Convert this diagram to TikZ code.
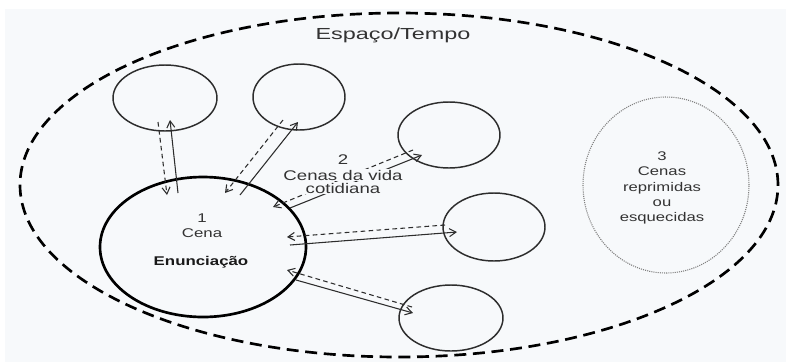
\documentclass[tikz,border=0pt]{standalone}
\usepackage{fontspec}
\setmainfont{Liberation Sans}
\usetikzlibrary{shapes.geometric,arrows.meta}
\definecolor{fundo}{RGB}{247,249,251}
\definecolor{traco}{RGB}{45,45,45}

\begin{document}
\begin{tikzpicture}[x=0.75pt,y=-0.75pt,>={Straight Barb[length=5pt,width=6pt]},
		scene/.style={ellipse,draw=traco,line width=1.1pt,inner sep=0pt},
		texto/.style={text=black!80,align=center,xscale=1.33,inner sep=0pt},
		ida/.style={->,draw=traco,line width=0.8pt},
		volta/.style={->,draw=traco,line width=0.8pt,dash pattern=on 3.5pt off 2.5pt}]

		\useasboundingbox (0,0) rectangle (786,362);
		\fill [white] (0,0) rectangle (786,362);
		\fill [fundo] (5,9) rectangle (786,362);

		\node [ellipse, draw, line width=2pt, dash pattern=on 9pt off 5pt, inner sep=0pt,
			minimum width=568.5pt, minimum height=258pt] (espaco) at (399,185) {};
		\node [ellipse, draw=gray, line width=0.8pt, dash pattern=on 0.8pt off 0.8pt, inner sep=0pt,
			minimum width=124.5pt, minimum height=132pt] (esq) at (666,185) {};

		\node [ellipse, draw, line width=2pt, inner sep=0pt,
			minimum width=154.5pt, minimum height=105pt] (cena) at (203,247) {};
		\node [scene, minimum width=78pt, minimum height=49.5pt] (c_1) at (165,98) {};
		\node [scene, minimum width=69pt, minimum height=49.5pt] (c_2) at (299,97) {};
		\node [scene, minimum width=76.5pt, minimum height=49.5pt] (c_3) at (449,135) {};
		\node [scene, minimum width=76.5pt, minimum height=51pt] (c_4) at (494,227) {};
		\node [scene, minimum width=78pt, minimum height=49.5pt] (c_5) at (451,318) {};

		\draw [ida] ([shift={(-25,-54)}]cena.center) -- ([shift={(5,22)}]c_1.center);
		\draw [volta] ([shift={(-7,24)}]c_1.center) -- ([shift={(-36,-52)}]cena.center);
		\draw [ida] ([shift={(37,-52)}]cena.center) -- ([shift={(-1,25)}]c_2.center);
		\draw [volta] ([shift={(-16,23)}]c_2.center) -- ([shift={(22,-54)}]cena.center);
		\draw [ida] ([shift={(87,-39)}]cena.center) -- ([shift={(-27,20)}]c_3.center);
		\draw [volta] ([shift={(-36,15)}]c_3.center) -- ([shift={(70,-40)}]cena.center);
		\draw [ida] ([shift={(87,-2)}]cena.center) -- ([shift={(-37,5)}]c_4.center);
		\draw [volta] ([shift={(-49,-2)}]c_4.center) -- ([shift={(84,-10)}]cena.center);
		\draw [ida] ([shift={(93,33)}]cena.center) -- ([shift={(-38,-5)}]c_5.center);
		\draw [volta] ([shift={(-39,-11)}]c_5.center) -- ([shift={(84,23)}]cena.center);

		\node [texto, xscale=1.1, font=\fontsize{12}{14}\selectfont] (titulo) at (393,35) {Espaço/Tempo};
		\node [texto, font=\fontsize{9.5}{11.3}\selectfont] (lab_1) at (202,225.5) {1\\Cena};
		\node [texto, font=\bfseries\fontsize{9.5}{11.3}\selectfont, text=black!90] (enun) at (201,262) {Enunciação};
		\node [texto, fill=fundo, inner sep=1pt, font=\fontsize{10.5}{12}\selectfont] (lab_2) at (343,160) {2};
		\node [texto, fill=fundo, inner sep=1pt, font=\fontsize{10.5}{12}\selectfont] (lab_2a) at (343,175) {Cenas da vida};
		\node [texto, fill=fundo, inner sep=1pt, font=\fontsize{10.5}{12}\selectfont] (lab_2b) at (343,188) {cotidiana};
		\node [texto, font=\fontsize{9.4}{11.4}\selectfont] (lab_3) at (662,188) {3\\Cenas\\reprimidas\\ou\\esquecidas};
		\end{tikzpicture}
\end{document}
